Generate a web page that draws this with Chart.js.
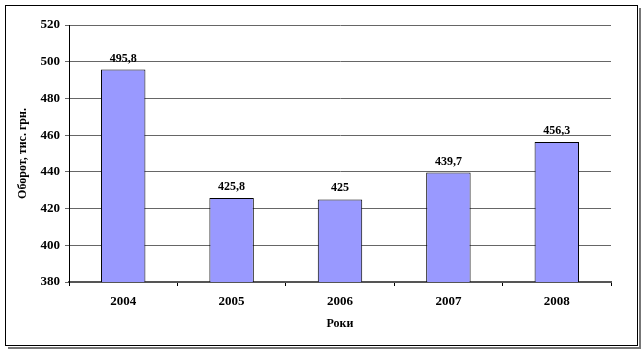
<!DOCTYPE html>
<html>
<head>
<meta charset="utf-8">
<script src="https://cdn.jsdelivr.net/npm/chart.js@4.4.0/dist/chart.umd.min.js"></script>
<style>
  html, body { margin: 0; padding: 0; background: #fff; }
  #wrap { width: 644px; height: 353px; position: relative; }
</style>
</head>
<body>
<div id="wrap"><canvas id="turnoverChart"></canvas></div>
<script>
// Chart data
const years = ['2004', '2005', '2006', '2007', '2008'];
const turnover = [495.8, 425.8, 425, 439.7, 456.3];
const yMin = 380;
const yMax = 520;
const yStep = 20;

const serif = '"Liberation Serif", "Times New Roman", serif';

// Frame around the whole picture
const framePlugin = {
    id: 'frame',
    beforeDraw(chart) {
        const ctx = chart.ctx;
        ctx.save();
        ctx.fillStyle = '#fff';
        ctx.fillRect(0, 0, chart.width, chart.height);
        ctx.strokeStyle = '#777';
        ctx.lineWidth = 2;
        ctx.beginPath();
        ctx.moveTo(640, 8);
        ctx.lineTo(640, 348);
        ctx.lineTo(8, 348);
        ctx.stroke();
        ctx.strokeStyle = '#000';
        ctx.lineWidth = 1;
        ctx.strokeRect(5.5, 5.5, 632, 340);
        ctx.restore();
    }
};

// Value labels above the bars
const valueLabels = {
    id: 'valueLabels',
    afterDatasetsDraw(chart) {
        const ctx = chart.ctx;
        const meta = chart.getDatasetMeta(0);
        ctx.save();
        ctx.font = 'bold 12px ' + serif;
        ctx.fillStyle = '#000';
        ctx.textAlign = 'center';
        ctx.textBaseline = 'bottom';
        meta.data.forEach((bar, i) => {
            const txt = String(turnover[i]).replace('.', ',');
            ctx.fillText(txt, bar.x, bar.y - 5);
        });
        ctx.restore();
    }
};

const ctx = document.getElementById('turnoverChart').getContext('2d');
new Chart(ctx, {
    type: 'bar',
    data: {
        labels: years,
        datasets: [{
            data: turnover,
            backgroundColor: '#9999FF',
            borderColor: '#000',
            borderWidth: 1,
            barPercentage: 0.41,
            categoryPercentage: 1.0
        }]
    },
    options: {
        responsive: true,
        maintainAspectRatio: false,
        animation: false,
        layout: { padding: { left: 12, right: 33, top: 25, bottom: 18 } },
        plugins: {
            legend: { display: false },
            tooltip: { enabled: false }
        },
        scales: {
            x: {
                grid: {
                    display: true,
                    drawOnChartArea: false,
                    drawTicks: true,
                    tickLength: 4,
                    color: '#000',
                    offset: true
                },
                border: { color: '#555', width: 2 },
                ticks: {
                    color: '#000',
                    font: { family: serif, size: 13, weight: 'bold' },
                    padding: 8
                },
                title: {
                    display: true,
                    text: 'Роки',
                    color: '#000',
                    font: { family: serif, size: 12, weight: 'bold' },
                    padding: { top: 5 }
                },
                afterFit(scale) { scale.height = 53; }
            },
            y: {
                min: yMin,
                max: yMax,
                grid: {
                    color: '#666',
                    lineWidth: 1,
                    tickLength: 4
                },
                border: { color: '#000', width: 1 },
                ticks: {
                    stepSize: yStep,
                    color: '#000',
                    font: { family: serif, size: 13, weight: 'bold' },
                    padding: 5
                },
                title: {
                    display: true,
                    text: 'Оборот, тис. грн.',
                    color: '#000',
                    font: { family: serif, size: 12, weight: 'bold' }
                },
                afterFit(scale) { scale.width = 57; }
            }
        }
    },
    plugins: [framePlugin, valueLabels]
});
</script>
</body>
</html>
